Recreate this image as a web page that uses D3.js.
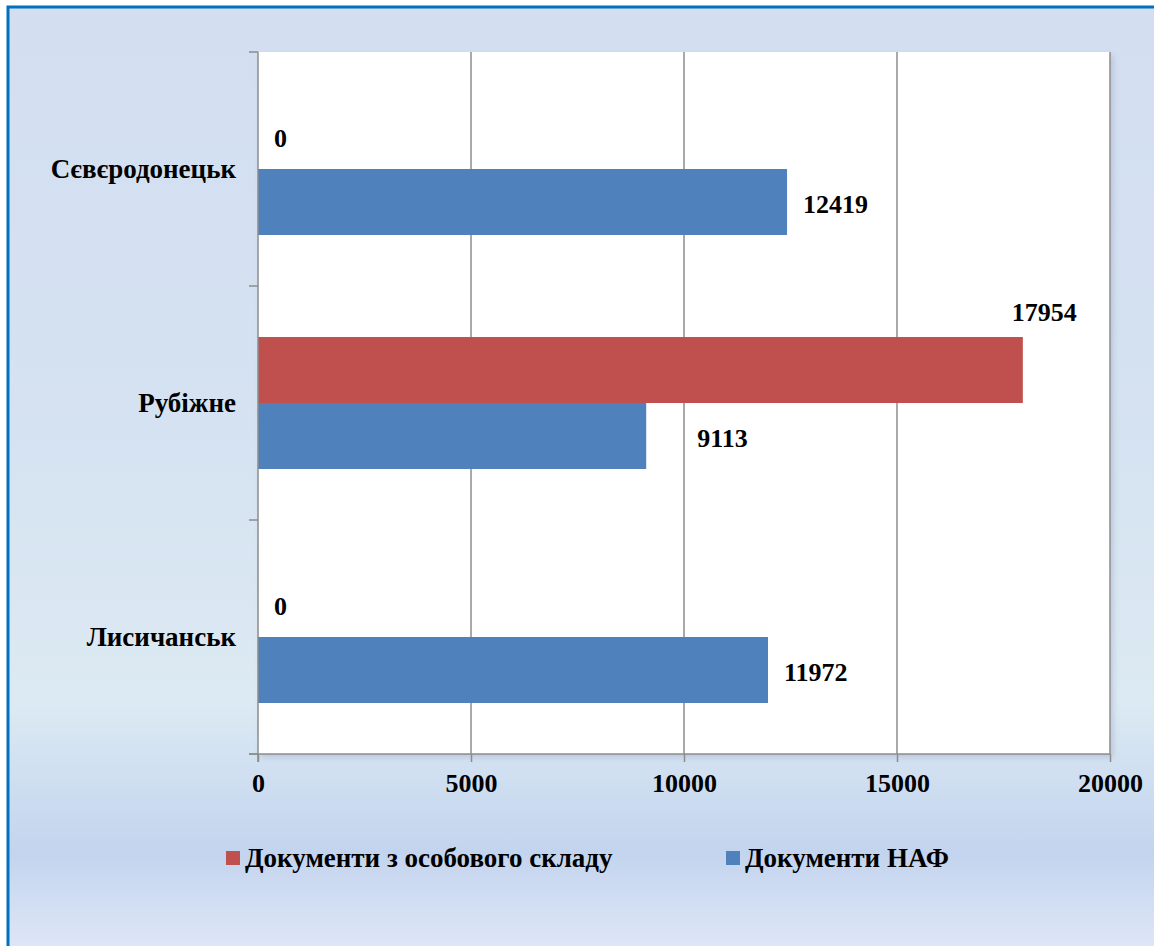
<!DOCTYPE html>
<html>
<head>
<meta charset="utf-8">
<script src="https://cdn.jsdelivr.net/npm/d3@7"></script>
<style>
  body { margin: 0; background: #fff; }
  svg { display: block; }
  text { font-family: "Liberation Serif", "Times New Roman", serif; font-weight: bold; fill: #000; }
</style>
</head>
<body>
<div id="chart"></div>
<script>
// data
var categories = ["Сєвєродонецьк", "Рубіжне", "Лисичанськ"];
var seriesNames = ["Документи з особового складу", "Документи НАФ"];
var personnelDocs = [0, 17954, 0];
var nafDocs = [12419, 9113, 11972];
var xTicks = [0, 5000, 10000, 15000, 20000];

var W = 1154, H = 946;
var plot = {left: 258, right: 1110, top: 52, bottom: 754};
var colors = ["#c0504d", "#4f81bd"];
// the 9113 label was dragged a bit to the right in the original
var nafLabelShift = [0, 35, 0];

var svg = d3.select("#chart").append("svg")
    .attr("width", W)
    .attr("height", H);

var defs = svg.append("defs");
var bg = defs.append("linearGradient")
    .attr("id", "bg")
    .attr("x1", 0).attr("y1", 0).attr("x2", 0).attr("y2", 1);
bg.append("stop").attr("offset", "0%").attr("stop-color", "#d3dff1");
bg.append("stop").attr("offset", "45%").attr("stop-color", "#d5e2f1");
bg.append("stop").attr("offset", "74%").attr("stop-color", "#dceaf3");
bg.append("stop").attr("offset", "90%").attr("stop-color", "#c3d4ee");
bg.append("stop").attr("offset", "100%").attr("stop-color", "#dde6f6");

var shadow = defs.append("filter").attr("id", "shadow")
    .attr("x", "-5%").attr("y", "-5%").attr("width", "110%").attr("height", "110%");
shadow.append("feDropShadow")
    .attr("dx", 3).attr("dy", 3).attr("stdDeviation", 3)
    .attr("flood-color", "#7f8fa8").attr("flood-opacity", 0.35);

// background + frame
svg.append("rect")
    .attr("x", 8).attr("y", 7)
    .attr("width", W - 8).attr("height", H - 7)
    .attr("fill", "url(#bg)");
svg.append("path")
    .attr("d", "M8," + H + " V7 H" + W)
    .attr("fill", "none")
    .attr("stroke", "#0070c0")
    .attr("stroke-width", 3);

// scales
var x = d3.scaleLinear()
    .domain([0, 20000])
    .range([plot.left, plot.right]);

var y = d3.scaleBand()
    .domain(categories)
    .range([plot.top, plot.bottom])
    .paddingInner(0.436)
    .paddingOuter(0.218);

var ySub = d3.scaleBand()
    .domain(seriesNames)
    .range([0, y.bandwidth()]);

// plot area
svg.append("rect")
    .attr("x", plot.left).attr("y", plot.top)
    .attr("width", plot.right - plot.left)
    .attr("height", plot.bottom - plot.top)
    .attr("fill", "#fff")
    .attr("filter", "url(#shadow)");

// gridlines
svg.append("g")
    .selectAll("line")
    .data(xTicks.slice(1))
    .join("line")
    .attr("x1", function(d) { return x(d); })
    .attr("x2", function(d) { return x(d); })
    .attr("y1", plot.top)
    .attr("y2", plot.bottom)
    .attr("stroke", "#8c8c8c")
    .attr("stroke-width", 1.5);

// bars
var rows = categories.map(function(c, i) {
  return {cat: c, i: i, values: [personnelDocs[i], nafDocs[i]]};
});

function cells(d) {
  return d.values.map(function(v, j) {
    return {name: seriesNames[j], value: v, j: j, shift: j == 1 ? nafLabelShift[d.i] : 0};
  });
}

var group = svg.append("g")
    .selectAll("g")
    .data(rows)
    .join("g")
    .attr("transform", function(d) { return "translate(0," + y(d.cat) + ")"; });

group.selectAll("rect")
    .data(cells)
    .join("rect")
    .attr("x", x(0))
    .attr("y", function(d) { return ySub(d.name); })
    .attr("width", function(d) { return x(d.value) - x(0); })
    .attr("height", ySub.bandwidth())
    .attr("fill", function(d) { return colors[d.j]; });

// value labels (outside end; pushed above the bar when it would not fit)
group.selectAll("text")
    .data(cells)
    .join("text")
    .style("font-size", "26px")
    .attr("dy", "0.35em")
    .attr("x", function(d) {
      var end = x(d.value);
      return (end + 90 > plot.right ? end - 11 : end + 16) + d.shift;
    })
    .attr("y", function(d) {
      var yc = ySub(d.name) + ySub.bandwidth() / 2;
      return x(d.value) + 90 > plot.right ? ySub(d.name) - 25 : yc + 2;
    })
    .text(function(d) { return d.value; });

// axes
var yAxis = d3.axisLeft(y).tickSize(0).tickPadding(22);
var yAxisG = svg.append("g")
    .attr("transform", "translate(" + plot.left + ",0)")
    .call(yAxis);
yAxisG.select(".domain").remove();
yAxisG.selectAll("text").style("font-size", "27px").attr("dy", "0.35em");

// axis lines with category boundary ticks
var bounds = [plot.top].concat(categories.map(function(c) { return y(c) - y.step() * y.paddingInner() / 2 + y.step(); }));
svg.append("line")
    .attr("x1", plot.left).attr("x2", plot.left)
    .attr("y1", plot.top).attr("y2", plot.bottom + 8)
    .attr("stroke", "#8c8c8c").attr("stroke-width", 1.5);
svg.append("g")
    .selectAll("line")
    .data(bounds)
    .join("line")
    .attr("x1", plot.left - 9).attr("x2", plot.left)
    .attr("y1", function(d) { return d; })
    .attr("y2", function(d) { return d; })
    .attr("stroke", "#8c8c8c").attr("stroke-width", 1.5);

var xAxis = d3.axisBottom(x).tickValues(xTicks).tickSize(8).tickPadding(12).tickFormat(d3.format("d"));
var xAxisG = svg.append("g")
    .attr("transform", "translate(0," + plot.bottom + ")")
    .call(xAxis);
xAxisG.select(".domain").remove();
xAxisG.selectAll(".tick line").attr("stroke", "#8c8c8c").attr("stroke-width", 1.5);
xAxisG.selectAll("text").style("font-size", "26px");
svg.append("line")
    .attr("x1", plot.left - 9).attr("x2", plot.right)
    .attr("y1", plot.bottom).attr("y2", plot.bottom)
    .attr("stroke", "#8c8c8c").attr("stroke-width", 1.5);

// legend
var legendX = [226, 726];
var legend = svg.append("g")
    .selectAll("g")
    .data(seriesNames)
    .join("g")
    .attr("transform", function(d, i) { return "translate(" + legendX[i] + ",858)"; });
legend.append("rect")
    .attr("x", 0).attr("y", -7)
    .attr("width", 14).attr("height", 14)
    .attr("fill", function(d, i) { return colors[i]; });
legend.append("text")
    .attr("x", 19)
    .attr("dy", "0.35em")
    .style("font-size", "27px")
    .text(function(d) { return d; });
</script>
</body>
</html>
